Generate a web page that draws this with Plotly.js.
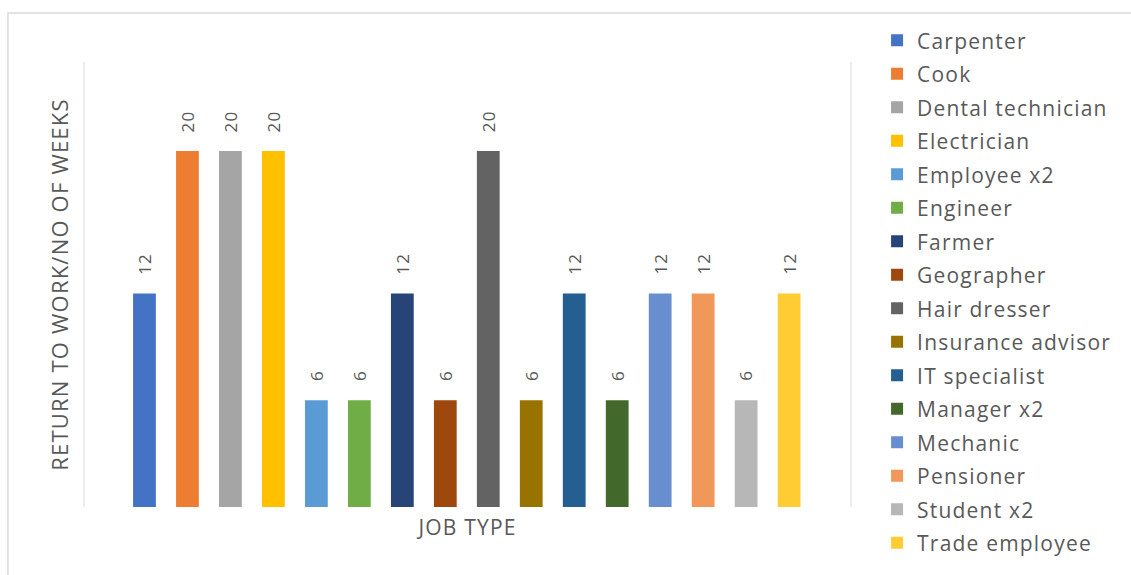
<!DOCTYPE html>
<html>
<head>
<meta charset="utf-8">
<script src="https://cdn.plot.ly/plotly-3.0.1.min.js"></script>
<style>html,body{margin:0;padding:0;background:#fff;}#chart{width:1131px;height:575px;}
svg text{letter-spacing:1.2px;}</style>
</head>
<body>
<div id="chart"></div>
<script>
const categories = ["Carpenter","Cook","Dental technician","Electrician","Employee x2","Engineer","Farmer","Geographer","Hair dresser","Insurance advisor","IT specialist","Manager x2","Mechanic","Pensioner","Student x2","Trade employee"];
const weeks = [12,20,20,20,6,6,12,6,20,6,12,6,12,12,6,12];
const colors = ["#4472C4","#ED7D31","#A5A5A5","#FFC000","#5B9BD5","#70AD47","#264478","#9E480E","#636363","#997300","#255E91","#43682B","#698ED0","#F1975A","#B7B7B7","#FFCD33"];

const FONT = "Open Sans, Noto Sans, sans-serif";
const GRAY = "#595959";

const traces = categories.map((c, i) => ({
  type: "bar",
  name: c,
  x: [c],
  y: [weeks[i]],
  marker: {color: colors[i]},
  width: 0.53,
  legendgroup: "g" + i,
  hoverinfo: "name+y"
}));

const annotations = categories.map((c, i) => ({
  x: c, y: weeks[i], xref: "x", yref: "y",
  text: String(weeks[i]), textangle: -90,
  showarrow: false, yanchor: "bottom", xanchor: "center",
  yshift: 17,
  font: {family: FONT, size: 17, color: GRAY}
}));

const layout = {
  width: 1131, height: 575,
  margin: {l: 84, r: 280, t: 62, b: 68},
  paper_bgcolor: "#fff", plot_bgcolor: "#fff",
  barmode: "overlay",
  font: {family: FONT, color: GRAY},
  xaxis: {
    type: "category",
    categoryorder: "array", categoryarray: categories,
    range: [-1.407, 16.44],
    showticklabels: false, ticks: "", showgrid: false, zeroline: false, showline: false,
    title: {text: "JOB TYPE", font: {family: FONT, size: 21, color: GRAY}, standoff: 13}
  },
  yaxis: {
    range: [0, 25],
    showticklabels: false, ticks: "", showgrid: false, zeroline: false, showline: false,
    title: {text: "RETURN TO WORK/NO OF WEEKS", font: {family: FONT, size: 22, color: GRAY}, standoff: 8}
  },
  showlegend: true,
  legend: {
    x: 1.034, xanchor: "left", y: 1.094, yanchor: "top",
    font: {family: FONT, size: 21, color: GRAY},
    tracegroupgap: 3.2, traceorder: "grouped",
    maxheight: 1,
    bgcolor: "rgba(0,0,0,0)"
  },
  annotations: annotations,
  shapes: [
    {type: "line", xref: "paper", yref: "paper", x0: 0, x1: 0, y0: 0, y1: 1, line: {color: "#D9D9D9", width: 1}},
    {type: "line", xref: "paper", yref: "paper", x0: 1, x1: 1, y0: 0, y1: 1, line: {color: "#D9D9D9", width: 1}},
    {type: "rect", xref: "paper", yref: "paper", x0: -0.0991, x1: 1.5, y0: -0.2, y1: 1.110, line: {color: "#D9D9D9", width: 1.5}, fillcolor: "rgba(0,0,0,0)", layer: "below"}
  ]
};

Plotly.newPlot("chart", traces, layout, {displayModeBar: false, staticPlot: true});
</script>
</body>
</html>
